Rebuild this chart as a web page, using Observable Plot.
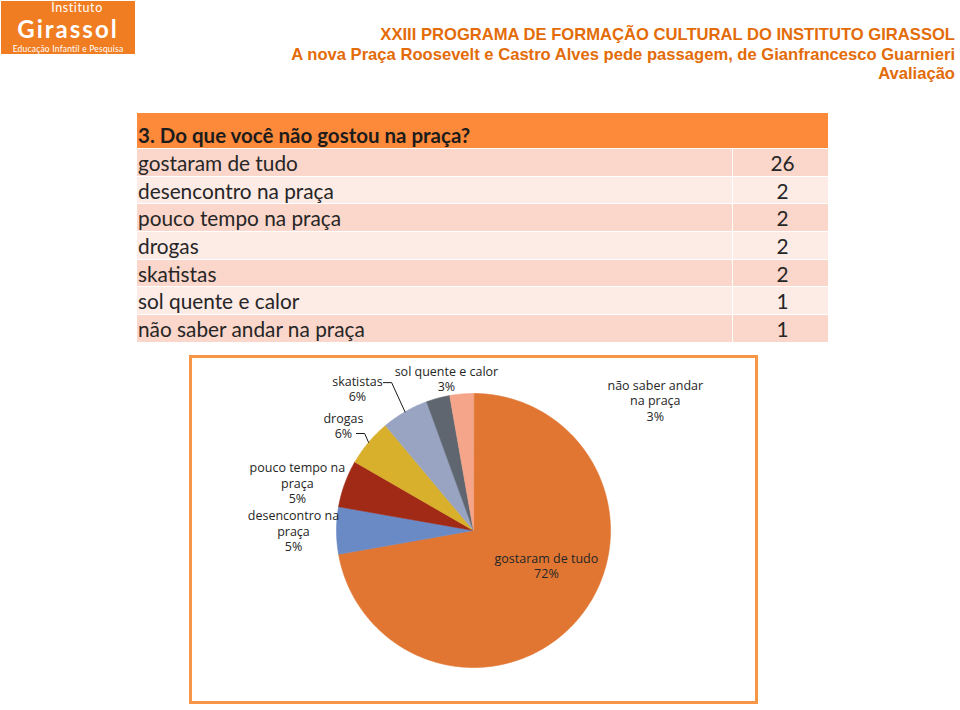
<!DOCTYPE html>
<html><head><meta charset="utf-8">
<script src="https://cdn.jsdelivr.net/npm/d3@7"></script>
<script src="https://cdn.jsdelivr.net/npm/@observablehq/plot@0.6"></script>
<style>
html,body{margin:0;padding:0;background:#fff}
body{width:960px;height:710px;position:relative;overflow:hidden;font-family:Lato,"Open Sans",sans-serif}
#logo{position:absolute;left:1px;top:1px;width:134px;height:53px;background:#f07d22;color:#fff;text-align:center;font-family:Lato,sans-serif}
#logo div{position:absolute;left:0;right:0;line-height:1.2;white-space:nowrap}
#logo .l1{top:-1px;font-size:12.5px;padding-left:18px;letter-spacing:0.6px}
#logo .l2{top:14px;font-size:24px;font-weight:700;letter-spacing:2px}
#logo .l3{top:43px;font-size:8.5px;letter-spacing:0.2px}
#title{position:absolute;right:5px;top:25px;text-align:right;color:#e36c09;font-family:"Liberation Sans Narrow","Arial Narrow","Liberation Sans",sans-serif;font-weight:700;font-size:16.6px;line-height:19.5px;white-space:nowrap}
#table{position:absolute;left:137px;top:113px;width:691px}
#table .hdr{height:35px;background:#fd8a3b;color:#1c1c1c;font-weight:700;font-size:20.5px;line-height:20px;box-sizing:border-box;padding:12px 0 0 1px;white-space:nowrap}
#table .row{display:flex;height:26.7px;margin-top:1px;font-size:20.8px;line-height:27.5px;color:#262626}
#table .row .c1{flex:0 0 595px;padding-left:1px;box-sizing:border-box}
#table .row .c2{flex:1;margin-left:1px;text-align:center;padding-left:4px}
#frame{position:absolute;left:189px;top:355px;width:563px;height:343px;border:3px solid #f79646}
#frame svg{display:block}
</style></head><body>
<div id="logo"><div class="l1">Instituto</div><div class="l2">Girassol</div><div class="l3">Educação Infantil e Pesquisa</div></div>
<div id="title"></div>
<div id="table"></div>
<div id="frame"></div>
<script>
// ---- data ----
const titleLines = [
  "XXIII PROGRAMA DE FORMAÇÃO CULTURAL DO INSTITUTO GIRASSOL",
  "A nova Praça Roosevelt e Castro Alves pede passagem, de Gianfrancesco Guarnieri",
  "Avaliação"
];
const question = "3. Do que você não gostou na praça?";
const categories = ["gostaram de tudo","desencontro na praça","pouco tempo na praça","drogas","skatistas","sol quente e calor","não saber andar na praça"];
const counts = [26,2,2,2,2,1,1];
const pctLabels = ["72%","5%","5%","6%","6%","3%","3%"];

// ---- styles / layout ----
const sliceColors = ["#e07632","#6a8ac6","#a02a16","#d9b02c","#98a4c2","#5f6670","#f5a68a"];
const rowColors = ["#fbd6cb","#fdebe6"];
const labelLines = {
  "gostaram de tudo":["gostaram de tudo"],
  "desencontro na praça":["desencontro na","praça"],
  "pouco tempo na praça":["pouco tempo na","praça"],
  "drogas":["drogas"],
  "skatistas":["skatistas"],
  "sol quente e calor":["sol quente e calor"],
  "não saber andar na praça":["não saber andar","na praça"]
};
// label placement: [angle in degrees clockwise from 12 o'clock, radius in pie radii]
const labelPlace = {
  "gostaram de tudo":[115.6,0.59],
  "desencontro na praça":[270,1.314],
  "pouco tempo na praça":[285.2,1.332],
  "drogas":[308.9,1.22],
  "skatistas":[320.7,1.338],
  "sol quente e calor":[349.9,1.126],
  "não saber andar na praça":[54.4,1.632]
};
// leader lines: start point offset from label centre (in pie radii)
const leaderFrom = {"skatistas":[0.19,0.044],"drogas":[0.095,-0.058]};

// ---- header & table ----
document.getElementById("title").innerHTML = titleLines.map(t => `<div>${t}</div>`).join("");
const table = document.getElementById("table");
table.innerHTML = `<div class="hdr">${question}</div>` +
  categories.map((c,i) => `<div class="row"><div class="c1" style="background:${rowColors[i%2]}">${c}</div><div class="c2" style="background:${rowColors[i%2]}">${counts[i]}</div></div>`).join("");

// ---- pie ----
const W = 563, H = 343, R = 137, cx = 281, cy = 172;
const rows = categories.map((name,i) => ({name, count: counts[i], pct: pctLabels[i]}));
const arcs = d3.pie().sort(null).value(d => d.count)(rows);
const pts = [];
for (const a of arcs) {
  pts.push({name: a.data.name, x: 0, y: 0});
  const n = Math.max(2, Math.ceil((a.endAngle - a.startAngle) / (Math.PI/180)));
  for (let k = 0; k <= n; k++) {
    const t = a.startAngle + (a.endAngle - a.startAngle) * k / n;
    pts.push({name: a.data.name, x: Math.sin(t), y: Math.cos(t)});
  }
}
const labels = arcs.map(a => {
  const [deg, r] = labelPlace[a.data.name];
  const t = deg * Math.PI / 180;
  return {name: a.data.name, x: r*Math.sin(t), y: r*Math.cos(t),
          text: [...labelLines[a.data.name], a.data.pct].join("\n")};
});
const leaders = [];
for (const a of arcs) {
  const off = leaderFrom[a.data.name];
  if (!off) continue;
  const L = labels.find(l => l.name === a.data.name);
  const mid = (a.startAngle + a.endAngle) / 2;
  const sx = L.x + off[0], sy = L.y + off[1];
  leaders.push({name: a.data.name, x: sx, y: sy});
  leaders.push({name: a.data.name, x: sx + 0.06, y: sy});
  leaders.push({name: a.data.name, x: Math.sin(mid), y: Math.cos(mid)});
}

const chart = Plot.plot({
  width: W, height: H, margin: 0,
  style: {background: "transparent", overflow: "visible"},
  x: {domain: [-cx/R, (W-cx)/R], axis: null},
  y: {domain: [-(H-cy)/R, cy/R], axis: null},
  color: {domain: categories, range: sliceColors},
  marks: [
    Plot.line(pts, {x: "x", y: "y", z: "name", fill: "name", stroke: "name", strokeWidth: 0.6, curve: "linear-closed"}),
    Plot.line(leaders, {x: "x", y: "y", z: "name", stroke: "#1a1a1a", strokeWidth: 1, curve: "linear"}),
    Plot.text(labels, {x: "x", y: "y", text: "text", lineAnchor: "middle", lineHeight: 1.25,
      fontSize: 12.5, fill: "#262626", fontFamily: "'Open Sans', sans-serif"})
  ]
});
document.getElementById("frame").appendChild(chart);
</script>
</body></html>
